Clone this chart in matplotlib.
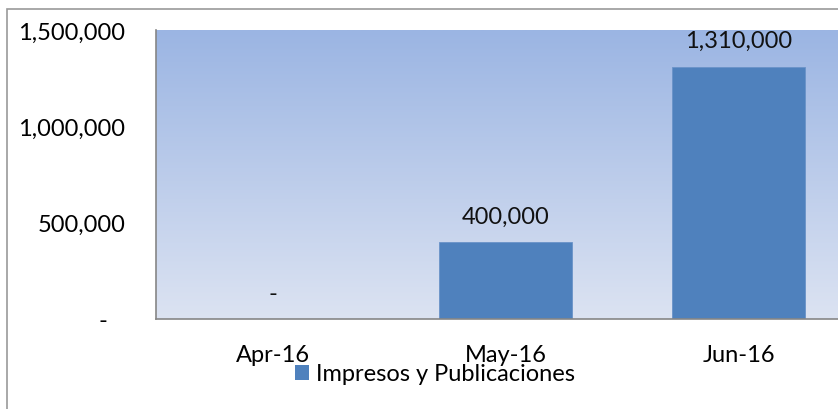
import numpy as np
import matplotlib.pyplot as plt
from matplotlib.patches import Patch, Rectangle
from matplotlib.colors import LinearSegmentedColormap

months = ["Apr-16", "May-16", "Jun-16"]
values = [0, 400000, 1310000]
series_name = "Impresos y Publicaciones"
y_ticks = [0, 500000, 1000000, 1500000]

plt.rcParams["font.family"] = ["Lato", "DejaVu Sans"]
FS = 17


def fmt(v):
    # Excel accounting style: zero shows as a dash
    return "-" if v == 0 else f"{v:,.0f}"


W, H = 838, 410
fig = plt.figure(figsize=(W / 100, H / 100), dpi=100)

# outer chart border (right/bottom edges fall outside the picture)
fig.patches.append(Rectangle((7 / W, -0.1), 1.2, (H - 10) / H + 0.1,
                             transform=fig.transFigure, fill=False,
                             edgecolor="#9a9a9a", linewidth=1.2))

# plot area extends past the right edge of the image
ax = fig.add_axes([156 / W, (H - 320) / H, (855 - 156) / W, 289 / H])
ax.set_xlim(-0.5, 2.5)
ax.set_ylim(0, 1500000)

# vertical gradient background
cmap = LinearSegmentedColormap.from_list("bg", ["#dce3f2", "#9bb5e3"])
grad = np.linspace(0, 1, 256).reshape(-1, 1)
ax.imshow(grad, cmap=cmap, aspect="auto", origin="lower",
          extent=(-0.5, 2.5, 0, 1500000), zorder=0)

x = np.arange(len(months))
ax.bar(x, values, width=0.567, color="#4f81bd", edgecolor="#6a93c8",
       linewidth=0.6, zorder=2)

for xi, v in zip(x, values):
    ax.annotate(fmt(v), (xi, v), xytext=(0, 11), textcoords="offset points",
                ha="center", va="bottom", fontsize=FS, color="#111111")

ax.set_xticks(x)
ax.set_xticklabels(months, fontsize=FS)
ax.set_yticks(y_ticks)
ax.set_yticklabels([fmt(v) if v else "-   " for v in y_ticks], fontsize=FS)
ax.tick_params(axis="x", length=0, pad=18)
ax.tick_params(axis="y", length=0, pad=22)

for side in ["top", "right"]:
    ax.spines[side].set_visible(False)
for side in ["left", "bottom"]:
    ax.spines[side].set_color("#868686")
    ax.spines[side].set_linewidth(1.2)

fig.legend(handles=[Patch(facecolor="#4f81bd", label=series_name)],
           loc="center", bbox_to_anchor=(435 / W, 1 - 375 / H),
           frameon=False, fontsize=FS, handlelength=0.6, handleheight=0.6,
           handletextpad=0.3, borderpad=0)

fig.savefig("out.png", dpi=100)
